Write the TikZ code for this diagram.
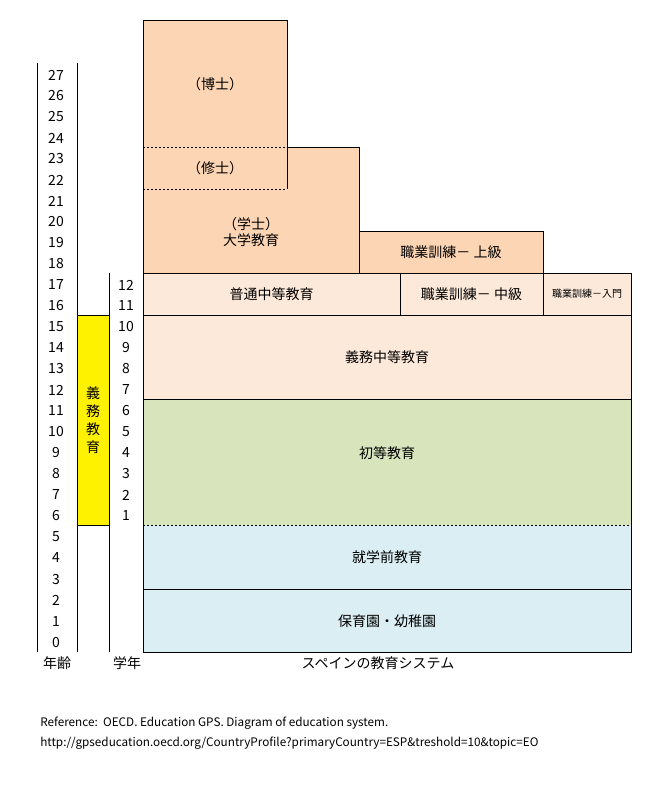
\documentclass[tikz,border=0pt]{standalone}
\usepackage{fontspec}
\setmainfont{Noto Sans CJK JP}
\usepackage{xcolor}
\usetikzlibrary{positioning}

\definecolor{tertiary}{HTML}{FCD5B4}
\definecolor{secondary}{HTML}{FDE9D9}
\definecolor{primary}{HTML}{D7E4BC}
\definecolor{preschool}{HTML}{DAEEF3}

\begin{document}
\begin{tikzpicture}[x=0.75pt,y=-0.75pt,
        frame/.style={line width=0.75pt,draw=black},
        dotline/.style={line width=0.75pt,dash pattern=on 1.5pt off 1.5pt},
        label/.style={font=\fontsize{10.5}{12}\selectfont,inner sep=0pt},
        tick/.style={font=\fontsize{10.5}{12}\selectfont,inner sep=0pt},
        note/.style={font=\fontsize{8.8}{11}\selectfont,inner sep=0pt,anchor=west}
    ]
    \useasboundingbox (0,0) rectangle (663,790);

    % --- Row geometry (label of age a sits at \base - \rowh*a) ---
    \def\base{642}
    \def\rowh{21}

    % --- Age and grade columns ---
    \draw[frame] (37,63) -- (37,652);
    \draw[frame] (77,63) -- (77,652);
    \filldraw[frame,fill=yellow] (77,315) rectangle (109,525);
    \draw[frame] (109,273) -- (109,652);
    \node[label,align=center,font=\fontsize{10.5}{13.5}\selectfont] (compulsory) at (93,420) {義\\務\\教\\育};
    \foreach \a in {0,...,27}
        \node[tick] (age\a) at (56,{\base-\rowh*\a}) {\a};
    \foreach \g in {1,...,12}
        \node[tick] (grade\g) at (126,{\base-\rowh*(\g+5)}) {\g};

    % --- Tertiary ---
    \filldraw[frame,fill=tertiary] (143,20) -- (287,20) -- (287,147) -- (359,147)
        -- (359,273) -- (143,273) -- cycle;
    \draw[frame] (287,147) -- (287,189);
    \draw[dotline] (143,147) -- (287,147);
    \draw[dotline] (143,189) -- (287,189);
    \filldraw[frame,fill=tertiary] (359,231) rectangle (543,273);
    \node[label] (doctor) at (215,84) {（博士）};
    \node[label] (master) at (215,168) {（修士）};
    \node[label,align=center] (bachelor) at (251,232) {（学士）\\大学教育};
    \node[label] (vocadv) at (451,252) {職業訓練－ 上級};

    % --- Upper and lower secondary ---
    \filldraw[frame,fill=secondary] (143,273) rectangle (631,315);
    \draw[frame] (400,273) -- (400,315);
    \draw[frame] (543,273) -- (543,315);
    \filldraw[frame,fill=secondary] (143,315) rectangle (631,399);
    \node[label] (general) at (271.5,294) {普通中等教育};
    \node[label] (vocmid) at (471.5,294) {職業訓練－ 中級};
    \node[label,font=\fontsize{7.5}{9}\selectfont] (vocbasic) at (587,294) {職業訓練－入門};
    \node[label] (lowersec) at (387,357) {義務中等教育};

    % --- Primary and pre-primary ---
    \fill[primary] (143,399) rectangle (631,525);
    \fill[preschool] (143,525) rectangle (631,652);
    \draw[frame] (143,399) rectangle (631,652);
    \draw[frame] (143,589) -- (631,589);
    \draw[dotline] (143,525) -- (631,525);
    \node[label] (primaryed) at (387,453) {初等教育};
    \node[label] (preprimary) at (387,557) {就学前教育};
    \node[label] (nursery) at (387,621) {保育園・幼稚園};

    % --- Captions ---
    \node[label] (agecap) at (57,663) {年齢};
    \node[label] (gradecap) at (127,663) {学年};
    \node[label] (title) at (378,663) {スペインの教育システム};
    \node[note] (ref) at (40,723) {Reference:\ \ OECD. Education GPS. Diagram of education system.};
    \node[note] (url) at (40,743) {http://gpseducation.oecd.org/CountryProfile?primaryCountry=ESP\&treshold=10\&topic=EO};

\end{tikzpicture}
\end{document}
